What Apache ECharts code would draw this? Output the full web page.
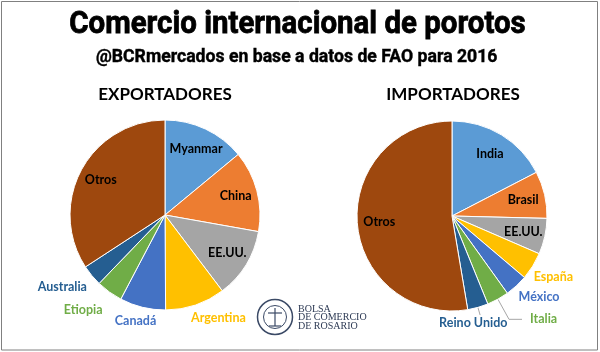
<!DOCTYPE html>
<html>
<head>
<meta charset="utf-8">
<script src="https://cdn.jsdelivr.net/npm/echarts@6/dist/echarts.min.js"></script>
<style>
  html, body { margin: 0; padding: 0; background: #fff; }
  #chart { width: 600px; height: 352px; }
</style>
</head>
<body>
<div id="chart"></div>
<script>
// participacion en el comercio mundial de porotos 2016 (%)
const expNames = ['Myanmar', 'China', 'EE.UU.', 'Argentina', 'Canadá', 'Etiopia', 'Australia', 'Otros']
const expShares = [14.0, 13.8, 11.9, 10.2, 7.8, 4.5, 3.6, 34.2]
const impNames = ['India', 'Brasil', 'EE.UU.', 'España', 'México', 'Italia', 'Reino Unido', 'Otros']
const impShares = [17.4, 8.0, 6.1, 4.7, 3.9, 3.75, 3.5, 52.65]

const sliceColors = ['#5B9BD5', '#ED7D31', '#A5A5A5', '#FFC000', '#4472C4', '#70AD47', '#255E91', '#9E480E']
const insideNames = ['Myanmar', 'China', 'EE.UU.', 'Otros', 'India', 'Brasil']
// etiquetas externas: [length, length2, distanceToLabelLine, bajar texto, linea visible]
const outsideTweaks = {
  Australia: [18, 0, -9, false, false],
  Etiopia: [22, 0, -6, false, false],
  'Canadá': [14, 0, -17, false, false],
  Argentina: [14, 0, -9, false, false],
  'España': [20, 0, -16, false, false],
  'México': [15, 0, -8, false, false],
  Italia: [23, 13, 8, false, true],
  'Reino Unido': [8, 0, -41, true, true]
}

const labelFont = 'Lato'
const R = 95

function pieSeries (names, shares, center) {
  const base = names.map((n, i) => {
    const t = outsideTweaks[n]
    const item = { name: n, value: shares[i], itemStyle: { color: sliceColors[i] } }
    if (t) {
      item.label = {
        show: true,
        position: 'outside',
        color: sliceColors[i],
        distanceToLabelLine: t[2],
        lineHeight: 15,
        formatter: t[3] ? '\n{b}' : '{b}'
      }
      item.labelLine = { show: t[4], length: t[0], length2: t[1], lineStyle: { color: '#A6A6A6', width: 1 } }
    } else {
      item.label = { show: false }
      item.labelLine = { show: false }
    }
    return item
  })
  const overlay = names.map((n, i) => ({
    name: n,
    value: shares[i],
    label: { show: insideNames.indexOf(n) >= 0 }
  }))
  return [
    {
      type: 'pie',
      center: center,
      radius: [0, R],
      startAngle: 90,
      clockwise: true,
      avoidLabelOverlap: false,
      animation: false,
      silent: true,
      itemStyle: { borderColor: '#fff', borderWidth: 1 },
      label: { fontFamily: labelFont, fontWeight: 'bold', fontSize: 12.5 },
      data: base
    },
    {
      type: 'pie',
      center: center,
      radius: [45, R],
      startAngle: 90,
      clockwise: true,
      avoidLabelOverlap: false,
      animation: false,
      silent: true,
      z: 3,
      itemStyle: { color: 'rgba(0,0,0,0)', borderWidth: 0 },
      label: { position: 'inside', color: '#000', fontFamily: labelFont, fontWeight: 'bold', fontSize: 12.5 },
      labelLine: { show: false },
      data: overlay
    }
  ]
}

const chart = echarts.init(document.getElementById('chart'), null, { renderer: 'canvas' })

const option = {
  backgroundColor: '#fff',
  graphic: [
    { type: 'rect', shape: { x: 1.5, y: 1.5, width: 596, height: 348.5 }, style: { fill: 'none', stroke: '#808080', lineWidth: 1 } },
    { type: 'text', x: 297.5, y: 25, scaleX: 0.92, style: { text: 'Comercio internacional de porotos', font: 'bold 32px Roboto', fill: '#000', stroke: '#000', lineWidth: 0.8, align: 'center', verticalAlign: 'middle' } },
    { type: 'text', x: 296.7, y: 57, scaleX: 0.98, style: { text: '@BCRmercados en base a datos de FAO para 2016', font: 'bold 18px Roboto', fill: '#000', stroke: '#000', lineWidth: 0.4, align: 'center', verticalAlign: 'middle' } },
    { type: 'text', x: 165, y: 95, style: { text: 'EXPORTADORES', font: 'bold 17px Lato', fill: '#000', align: 'center', verticalAlign: 'middle' } },
    { type: 'text', x: 453, y: 95, style: { text: 'IMPORTADORES', font: 'bold 17px Lato', fill: '#000', align: 'center', verticalAlign: 'middle' } },
    // logo bolsa
    { type: 'circle', shape: { cx: 275, cy: 317, r: 17.5 }, style: { fill: '#fff', stroke: '#3B4A66', lineWidth: 1.5 } },
    { type: 'circle', shape: { cx: 275, cy: 317, r: 11.5 }, style: { fill: 'none', stroke: '#3B4A66', lineWidth: 1 } },
    { type: 'line', shape: { x1: 275, y1: 308, x2: 275, y2: 326 }, style: { stroke: '#3B4A66', lineWidth: 1.2 } },
    { type: 'line', shape: { x1: 268, y1: 313, x2: 282, y2: 313 }, style: { stroke: '#3B4A66', lineWidth: 1.2 } },
    { type: 'line', shape: { x1: 269, y1: 326, x2: 281, y2: 326 }, style: { stroke: '#3B4A66', lineWidth: 1.2 } },
    { type: 'text', x: 298, y: 309, style: { text: 'BOLSA', font: '10px "Liberation Serif"', fill: '#2E3B55', verticalAlign: 'middle' } },
    { type: 'text', x: 298, y: 317.5, style: { text: 'DE COMERCIO', font: '10px "Liberation Serif"', fill: '#2E3B55', verticalAlign: 'middle' } },
    { type: 'text', x: 298, y: 326, style: { text: 'DE ROSARIO', font: '10px "Liberation Serif"', fill: '#2E3B55', verticalAlign: 'middle' } }
  ],
  series: [
    ...pieSeries(expNames, expShares, [165, 215]),
    ...pieSeries(impNames, impShares, [452, 216])
  ]
}

chart.setOption(option)
</script>
</body>
</html>
